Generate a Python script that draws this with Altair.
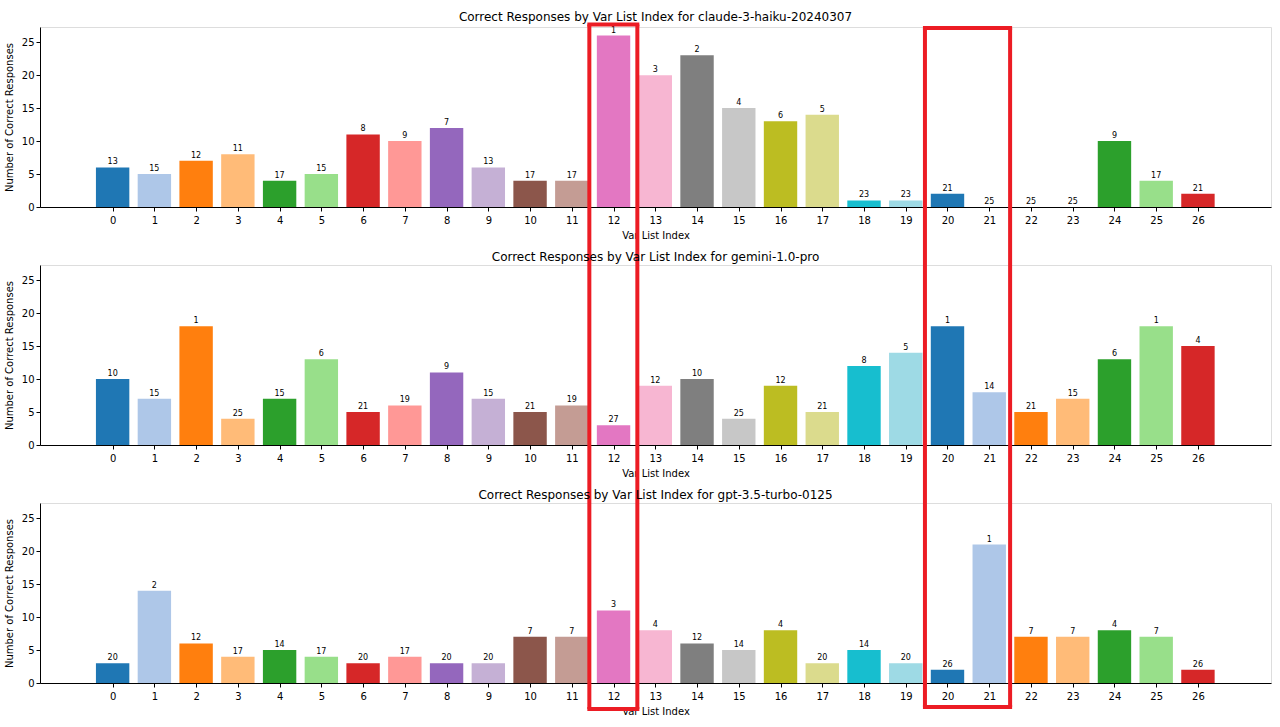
import altair as alt
import pandas as pd

# ---- data ----
idx = list(range(27))
models = ["claude-3-haiku-20240307", "gemini-1.0-pro", "gpt-3.5-turbo-0125"]

claude_vals = [6, 5, 7, 8, 4, 5, 11, 10, 12, 6, 4, 4, 26, 20, 23, 15, 13, 14, 1, 1, 2, 0, 0, 0, 10, 4, 2]
claude_rank = [13, 15, 12, 11, 17, 15, 8, 9, 7, 13, 17, 17, 1, 3, 2, 4, 6, 5, 23, 23, 21, 25, 25, 25, 9, 17, 21]

gemini_vals = [10, 7, 18, 4, 7, 13, 5, 6, 11, 7, 5, 6, 3, 9, 10, 4, 9, 5, 12, 14, 18, 8, 5, 7, 13, 18, 15]
gemini_rank = [10, 15, 1, 25, 15, 6, 21, 19, 9, 15, 21, 19, 27, 12, 10, 25, 12, 21, 8, 5, 1, 14, 21, 15, 6, 1, 4]

gpt_vals = [3, 14, 6, 4, 5, 4, 3, 4, 3, 3, 7, 7, 11, 8, 6, 5, 8, 3, 5, 3, 2, 21, 7, 7, 8, 7, 2]
gpt_rank = [20, 2, 12, 17, 14, 17, 20, 17, 20, 20, 7, 7, 3, 4, 12, 14, 4, 20, 14, 20, 26, 1, 7, 7, 4, 7, 26]

tab20 = ["#1f77b4", "#aec7e8", "#ff7f0e", "#ffbb78", "#2ca02c", "#98df8a", "#d62728", "#ff9896",
         "#9467bd", "#c5b0d5", "#8c564b", "#c49c94", "#e377c2", "#f7b6d2", "#7f7f7f", "#c7c7c7",
         "#bcbd22", "#dbdb8d", "#17becf", "#9edae5"]

y_ticks = [0, 5, 10, 15, 20, 25]

# highlight boxes (x edges in index units)
box_edges = [(11.42, 12.57), (19.46, 21.50)]

# ---- layout ----
W = 1231
H = 180
SPACING = 58
RED = "#ec1c24"
FONT = "DejaVu Sans"
X_DOMAIN = [-1.74, 27.75]
Y_DOMAIN = [0, 27.3]

xscale = alt.Scale(domain=X_DOMAIN, nice=False, zero=False)
yscale = alt.Scale(domain=Y_DOMAIN, nice=False)
xaxis = alt.Axis(values=idx, format="d", grid=False, tickSize=4, tickColor="black",
                 domainColor="black", labelPadding=4, labelFontSize=10, labelColor="black",
                 titleFontSize=10, titleColor="black", titleFontWeight="normal", titlePadding=5,
                 labelFont=FONT, titleFont=FONT, labelOverlap=False, title="Var List Index")
yaxis = alt.Axis(values=y_ticks, grid=False, tickSize=4, tickColor="black",
                 domainColor="black", labelPadding=2, labelFontSize=10, labelColor="black",
                 titleFontSize=10, titleColor="black", titleFontWeight="normal", titlePadding=7,
                 labelFont=FONT, titleFont=FONT, labelOverlap=False,
                 title="Number of Correct Responses")


def X(field):
    return alt.X(field, scale=xscale, axis=xaxis)


def Y(field):
    return alt.Y(field, scale=yscale, axis=yaxis)


def panel(model, vals, ranks, pos):
    df = pd.DataFrame({
        "idx": idx,
        "value": vals,
        "rank": ranks,
        "color": [tab20[i % 20] for i in idx],
    })

    base = alt.Chart(df).transform_calculate(
        x_lo="datum.idx - 0.4", x_hi="datum.idx + 0.4"
    )
    bars = base.mark_bar().encode(
        x=X("x_lo:Q"),
        x2="x_hi:Q",
        y=Y("value:Q"),
        y2=alt.datum(0),
        color=alt.Color("color:N", scale=None),
    )
    labels = base.mark_text(baseline="bottom", dy=-1, fontSize=8, font=FONT, color="black").encode(
        x=X("idx:Q"),
        y=Y("value:Q"),
        text="rank:N",
    )

    layers = [bars, labels]
    edges = pd.DataFrame({"lo": [e[0] for e in box_edges], "hi": [e[1] for e in box_edges]})
    tops = [-2.6, 1.0]
    bottoms = [H + 26, H + 24]
    for k in range(len(box_edges)):
        e = edges.iloc[[k]]
        top = tops[k] if pos == 0 else 0
        bot = bottoms[k] if pos == 2 else H + SPACING
        for col in ["lo", "hi"]:
            layers.append(
                alt.Chart(e).mark_rule(color=RED, strokeWidth=4, strokeCap="butt").encode(
                    x=X(f"{col}:Q"),
                    y=alt.value(top), y2=alt.value(bot),
                )
            )
        if pos == 0:
            layers.append(
                alt.Chart(e).mark_rule(color=RED, strokeWidth=4, strokeCap="square").encode(
                    x=X("lo:Q"), x2="hi:Q", y=alt.value(top),
                )
            )
        if pos == 2:
            layers.append(
                alt.Chart(e).mark_rule(color=RED, strokeWidth=4, strokeCap="square").encode(
                    x=X("lo:Q"), x2="hi:Q", y=alt.value(bot),
                )
            )

    return alt.layer(*layers).properties(
        width=W, height=H,
        title=alt.Title(f"Correct Responses by Var List Index for {model}", fontSize=12,
                        font=FONT, fontWeight="normal", color="black",
                        offset=-2 if pos == 0 else -1, frame="group"),
    )


chart = alt.vconcat(
    panel(models[0], claude_vals, claude_rank, 0),
    panel(models[1], gemini_vals, gemini_rank, 1),
    panel(models[2], gpt_vals, gpt_rank, 2),
    spacing=SPACING,
    bounds="flush",
).properties(
    padding={"left": 3, "top": 10, "right": 5, "bottom": 5}
).configure_view(stroke="black", strokeWidth=1).configure(background="white")

chart.save("out.html", embed_options={"renderer": "svg", "actions": False})
